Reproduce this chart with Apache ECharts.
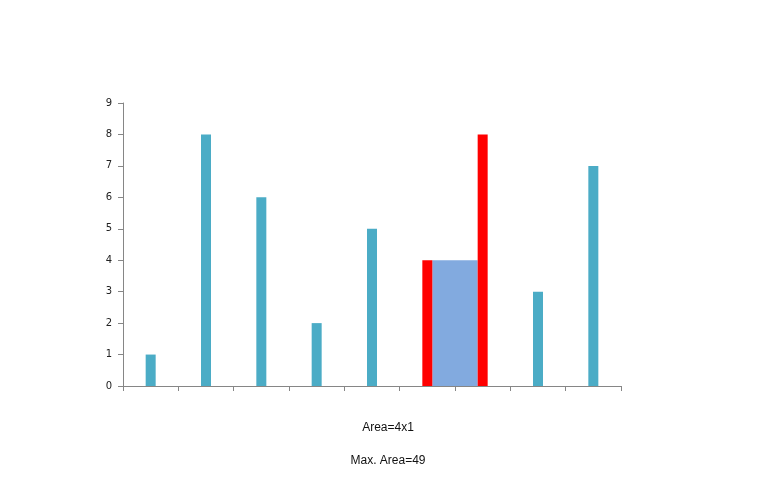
<!DOCTYPE html>
<html>
<head>
<meta charset="utf-8">
<script src="https://cdn.jsdelivr.net/npm/echarts@6/dist/echarts.min.js"></script>
<style>html,body{margin:0;padding:0;background:#fff}#c{width:776px;height:493px}</style>
</head>
<body>
<div id="c"></div>
<script>
const categories = ['0','1','2','3','4','5','6','7','8'];
const heights = [1, 8, 6, 2, 5, 4, 8, 3, 7];
const highlighted = [5, 6];
// water area: [left index, right index, level]
const waterArea = [[5, 6, 4]];
const yTicks = [0, 9, 1];
const captionLines = ['Area=4x1', 'Max. Area=49'];

const BAR_W = 10;
const chart = echarts.init(document.getElementById('c'), null, {renderer: 'canvas'});
chart.setOption({
  animation: false,
  backgroundColor: '#ffffff',
  grid: {left: 123, right: 155, top: 103, bottom: 107, containLabel: false},
  xAxis: {
    type: 'category',
    data: categories,
    boundaryGap: true,
    axisLine: {lineStyle: {color: '#868686', width: 1}},
    axisTick: {show: true, alignWithLabel: false, length: 5, lineStyle: {color: '#868686'}},
    axisLabel: {show: false},
    splitLine: {show: false}
  },
  yAxis: {
    type: 'value',
    min: yTicks[0], max: yTicks[1], interval: yTicks[2],
    axisLine: {show: true, lineStyle: {color: '#868686', width: 1}},
    axisTick: {show: true, length: 5, lineStyle: {color: '#868686'}},
    axisLabel: {color: '#222', fontFamily: 'DejaVu Sans', fontSize: 10, margin: 11},
    splitLine: {show: false}
  },
  series: [
    {
      type: 'bar',
      barWidth: BAR_W,
      data: heights.map((v, i) => ({
        value: v,
        itemStyle: {color: highlighted.includes(i) ? '#FF0000' : '#4BACC6'}
      }))
    },
    {
      type: 'custom',
      data: waterArea,
      renderItem: function (params, api) {
        const p0 = api.coord([api.value(0), api.value(2)]);
        const p1 = api.coord([api.value(1), 0]);
        const x0 = p0[0] + BAR_W / 2;
        const x1 = p1[0] - BAR_W / 2;
        return {
          type: 'rect',
          shape: {x: x0, y: p0[1], width: x1 - x0, height: p1[1] - p0[1]},
          style: {fill: '#82AADF'}
        };
      },
      encode: {x: [0, 1], y: 2}
    }
  ],
  graphic: captionLines.map((t, i) => ({
    type: 'text',
    left: 'center',
    top: 422 + i * 33,
    style: {text: t, fontFamily: 'Liberation Sans', fontSize: 12, fill: '#111'}
  }))
});
</script>
</body>
</html>
